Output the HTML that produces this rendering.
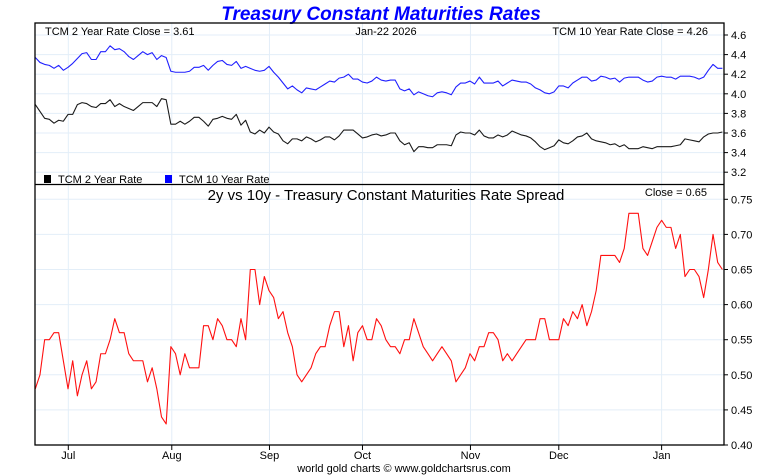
<!DOCTYPE html>
<html><head><meta charset="utf-8"><style>
html,body{margin:0;padding:0;background:#fff;}
svg{display:block;font-family:"Liberation Sans",sans-serif;}
</style></head><body>
<svg id="chart" width="760" height="475" viewBox="0 0 760 475">
<text x="381" y="20" text-anchor="middle" font-size="19" font-weight="bold" font-style="italic" fill="#0000ff">Treasury Constant Maturities Rates</text>
<g id="grid"></g>
<g id="series"></g>
<g id="axes"></g>
<text x="45" y="35" font-size="11" fill="#000">TCM 2 Year Rate Close = 3.61</text>
<text x="386" y="35" font-size="11" text-anchor="middle" fill="#000">Jan-22  2026</text>
<text x="708" y="35" font-size="11" text-anchor="end" fill="#000">TCM 10 Year Rate Close = 4.26</text>
<g><rect x="44" y="175" width="7" height="8" fill="#000"/><text x="58" y="183" font-size="11">TCM 2 Year Rate</text></g>
<g><rect x="165" y="175" width="7" height="8" fill="#0000ff"/><text x="179" y="183" font-size="11">TCM 10 Year Rate</text></g>
<text x="386" y="200" font-size="15" text-anchor="middle" fill="#000">2y vs 10y - Treasury Constant Maturities Rate Spread</text>
<text x="707" y="196" font-size="11" text-anchor="end" fill="#000">Close = 0.65</text>
<text x="404" y="472" font-size="11" text-anchor="middle" fill="#000">world gold charts © www.goldchartsrus.com</text>
</svg>
<script>
const spread = [0.48,0.50,0.55,0.55,0.56,0.56,0.52,0.48,0.52,0.47,0.50,0.52,0.48,0.49,0.53,0.53,0.55,0.58,0.56,0.56,0.53,0.52,0.52,0.52,0.49,0.51,0.48,0.44,0.43,0.54,0.53,0.50,0.53,0.51,0.51,0.51,0.57,0.57,0.55,0.58,0.57,0.55,0.55,0.54,0.58,0.55,0.65,0.65,0.60,0.64,0.62,0.61,0.58,0.59,0.56,0.54,0.50,0.49,0.50,0.51,0.53,0.54,0.54,0.57,0.59,0.59,0.54,0.57,0.52,0.56,0.57,0.55,0.55,0.58,0.57,0.55,0.54,
0.54,0.53,0.55,0.55,0.58,0.56,0.54,0.53,0.52,0.53,0.54,0.53,0.52,0.49,0.50,0.51,0.53,0.52,0.54,0.54,0.56,0.56,0.55,0.52,0.53,0.52,0.53,0.54,0.55,0.55,0.55,0.58,0.58,0.55,0.55,0.55,0.58,0.57,0.59,0.58,0.60,0.57,0.59,0.62,0.67,0.67,0.67,0.67,0.66,0.68,0.73,0.73,0.73,0.68,0.67,0.69,0.71,0.72,0.71,0.71,0.68,0.70,0.64,0.65,0.65,0.64,0.61,0.65,0.70,0.66,0.65];
const tenYear = [4.37,4.32,4.30,4.29,4.26,4.29,4.24,4.27,4.31,4.36,4.41,4.42,4.35,4.35,4.43,4.43,4.49,4.45,4.46,4.43,4.38,4.35,4.39,4.43,4.40,4.42,4.35,4.39,4.37,4.23,4.22,4.22,4.22,4.23,4.27,4.27,4.29,4.24,4.29,4.33,4.34,4.30,4.29,4.33,4.26,4.28,4.26,4.24,4.23,4.24,4.28,4.22,4.17,4.11,4.05,4.08,4.04,4.01,4.06,4.05,4.04,4.07,4.10,4.13,4.12,4.16,4.17,4.20,4.15,4.15,4.12,4.11,4.13,4.17,4.14,4.13,4.14,
4.14,4.05,4.03,4.05,3.99,4.02,4.00,3.98,3.97,4.01,4.02,4.01,3.99,4.07,4.11,4.11,4.13,4.10,4.17,4.11,4.11,4.11,4.13,4.08,4.11,4.14,4.13,4.12,4.12,4.10,4.06,4.04,4.01,4.00,4.02,4.08,4.08,4.06,4.11,4.14,4.17,4.17,4.13,4.14,4.18,4.17,4.15,4.16,4.12,4.16,4.17,4.17,4.17,4.14,4.12,4.13,4.17,4.18,4.17,4.17,4.15,4.18,4.18,4.18,4.17,4.15,4.17,4.24,4.30,4.26,4.26];
const twoYear = [3.89,3.82,3.75,3.74,3.70,3.73,3.72,3.79,3.79,3.89,3.91,3.90,3.87,3.86,3.90,3.90,3.94,3.87,3.90,3.87,3.85,3.83,3.87,3.91,3.91,3.91,3.87,3.95,3.94,3.69,3.69,3.72,3.69,3.72,3.76,3.76,3.72,3.67,3.74,3.75,3.77,3.75,3.74,3.79,3.68,3.73,3.61,3.59,3.63,3.60,3.66,3.61,3.59,3.52,3.49,3.54,3.54,3.52,3.56,3.54,3.51,3.53,3.56,3.56,3.53,3.57,3.63,3.63,3.63,3.59,3.55,3.56,3.58,3.59,3.57,3.58,3.60,
3.60,3.52,3.48,3.50,3.41,3.46,3.46,3.45,3.45,3.48,3.48,3.48,3.47,3.58,3.61,3.60,3.60,3.58,3.63,3.57,3.55,3.55,3.58,3.56,3.58,3.62,3.60,3.58,3.57,3.55,3.51,3.46,3.43,3.45,3.47,3.53,3.50,3.49,3.52,3.56,3.57,3.60,3.54,3.52,3.51,3.50,3.48,3.49,3.46,3.48,3.44,3.44,3.44,3.46,3.45,3.44,3.46,3.46,3.46,3.46,3.47,3.48,3.54,3.53,3.52,3.51,3.56,3.59,3.60,3.60,3.61];
const monthLabels = ["Jul","Aug","Sep","Oct","Nov","Dec","Jan"];
const monthIndex = [7.06,29.2,50.1,70,93.1,112,134];
const topTicks = [4.6,4.4,4.2,4.0,3.8,3.6,3.4,3.2];
const spreadTicks = [0.75,0.70,0.65,0.60,0.55,0.50,0.45,0.40];

const NS="http://www.w3.org/2000/svg";
const L=35, R=724, TOP=23, MID=184.5, BOT=445;
const x = i => 35.3 + i*4.674;
const yTop = v => 35 + (4.6 - v)*98;
const ySp = v => 445 - (v - 0.40)*702;
function mk(tag, attrs, parent){const e=document.createElementNS(NS,tag);for(const k in attrs)e.setAttribute(k,attrs[k]);parent.appendChild(e);return e;}
const grid=document.getElementById('grid'), series=document.getElementById('series'), axes=document.getElementById('axes');

monthIndex.forEach((mi,k)=>{
  const gx=x(mi);
  const gl=mk('line',{x1:gx,x2:gx,y1:TOP,y2:BOT,stroke:'#e3eef8','stroke-width':1},grid);
  
  
  const tk=mk('line',{x1:gx,x2:gx,y1:BOT,y2:BOT+5,stroke:'#000'},axes);
  
  
  const t=mk('text',{x:gx,y:459,'font-size':11,'text-anchor':'middle'},axes);
  t.textContent=monthLabels[k];
  
  
});
topTicks.forEach(v=>{
  const gy=yTop(v);
  const gl=mk('line',{x1:L,x2:R,y1:gy,y2:gy,stroke:'#e3eef8'},grid);
  
  
  const tk=mk('line',{x1:R,x2:R+4,y1:gy,y2:gy,stroke:'#000'},axes);
  
  
  const t=mk('text',{x:R+7,y:gy+4,'font-size':11},axes);
  t.textContent=v.toFixed(1);
  
  
});
spreadTicks.forEach(v=>{
  const gy=ySp(v);
  const gl=mk('line',{x1:L,x2:R,y1:gy,y2:gy,stroke:'#e3eef8'},grid);
  
  
  const tk=mk('line',{x1:R,x2:R+4,y1:gy,y2:gy,stroke:'#000'},axes);
  
  
  const t=mk('text',{x:R+7,y:gy+4,'font-size':11},axes);
  t.textContent=v.toFixed(2);
  
  
});
function line(arr, fy, color, name){
  const d=arr.map((v,i)=>(i?'L':'M')+x(i).toFixed(2)+','+fy(v).toFixed(2)).join('');
  const p=mk('path',{d:d,fill:'none',stroke:color,'stroke-width':1.1,'stroke-linejoin':'round'},series);
  
  
}
line(tenYear,yTop,'#2020ff','ten-year-line');
line(twoYear,yTop,'#1a1a1a','two-year-line');
line(spread,ySp,'#ff1010','spread-line');
const fr=mk('rect',{x:L,y:TOP,width:R-L,height:BOT-TOP,fill:'none',stroke:'#000','stroke-width':1.3},axes);


const dv=mk('line',{x1:L,x2:R,y1:MID,y2:MID,stroke:'#000','stroke-width':1.3},axes);


</script>
</body></html>
